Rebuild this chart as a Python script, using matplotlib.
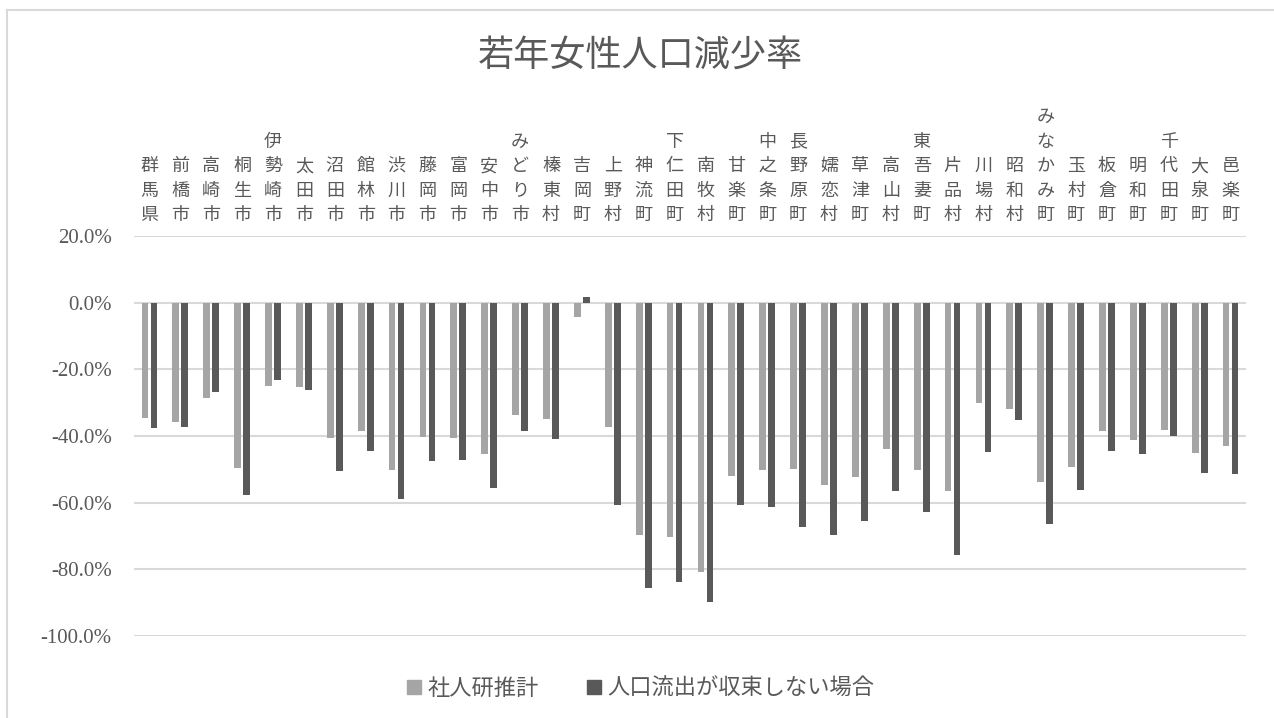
import matplotlib.pyplot as plt
import numpy as np
from matplotlib.patches import Patch
from matplotlib.lines import Line2D
from matplotlib.transforms import blended_transform_factory

plt.rcParams['font.family'] = ['Noto Sans CJK JP', 'DejaVu Sans']

# municipalities of Gunma
areas = ['群馬県', '前橋市', '高崎市', '桐生市', '伊勢崎市', '太田市', '沼田市', '館林市',
         '渋川市', '藤岡市', '富岡市', '安中市', 'みどり市', '榛東村', '吉岡町', '上野村',
         '神流町', '下仁田町', '南牧村', '甘楽町', '中之条町', '長野原町', '嬬恋村', '草津町',
         '高山村', '東吾妻町', '片品村', '川場村', '昭和村', 'みなかみ町', '玉村町', '板倉町',
         '明和町', '千代田町', '大泉町', '邑楽町']

# 社人研推計 (%)
ipss = [-34.7, -35.8, -28.6, -49.5, -25.0, -25.2, -40.7, -38.6, -50.1, -40.2, -40.5, -45.5,
        -33.7, -34.8, -4.2, -37.2, -69.6, -70.2, -80.7, -51.9, -50.1, -49.8, -54.8, -52.3,
        -44.0, -50.2, -56.6, -30.0, -31.8, -53.7, -49.4, -38.4, -41.2, -38.1, -45.1, -43.1]

# 人口流出が収束しない場合 (%)
no_conv = [-37.6, -37.2, -26.9, -57.7, -23.1, -26.3, -50.4, -44.6, -59.0, -47.5, -47.3, -55.5,
           -38.6, -40.9, 1.6, -60.8, -85.5, -83.7, -89.9, -60.8, -61.3, -67.4, -69.6, -65.4,
           -56.5, -62.7, -75.8, -44.7, -35.2, -66.3, -56.2, -44.5, -45.3, -39.9, -51.2, -51.3]

light = '#a5a5a5'
dark = '#595959'
txt = '#595959'

fig = plt.figure(figsize=(12.74, 7.18), dpi=100)
ax = fig.add_axes([134/1274, 1-636/718, 1112/1274, 400/718])

x = np.arange(len(areas))
w = 0.217
ax.bar(x - 0.146, ipss, w, color=light, zorder=3)
ax.bar(x + 0.146, no_conv, w, color=dark, zorder=3)

ax.set_xlim(-0.5, len(areas) - 0.5)
ax.set_ylim(-100, 20)
ax.set_yticks(np.arange(-100, 21, 20))
ax.set_yticklabels(['%.1f%%' % v for v in np.arange(-100, 21, 20)],
                   family='Liberation Serif', fontsize=15, color=txt)
ax.tick_params(axis='y', length=0, pad=16)
ax.set_xticks([])
ax.grid(axis='y', color='#d9d9d9', linewidth=1.5, zorder=0)
for s in ax.spines.values():
    s.set_visible(False)

# vertical labels with upright characters
trans = blended_transform_factory(ax.transData, ax.transAxes)
for i, name in enumerate(areas):
    ax.text(i, 1.03, '\n'.join(name), transform=trans, ha='center', va='bottom',
            fontsize=13, color=txt, linespacing=1.46)

fig.text(0.503, 1-56/718, '若年女性人口減少率', ha='center', va='center',
         fontsize=26, color=txt)

handles = [Patch(color=light), Patch(color=dark)]
fig.legend(handles, ['社人研推計', '人口流出が収束しない場合'], loc='center',
           bbox_to_anchor=(0.503, 1-688/718), ncol=2, frameon=False, fontsize=16,
           labelcolor=txt, handlelength=0.6, handleheight=0.6, handletextpad=0.3,
           columnspacing=2.2)

# chart border (left and top only visible)
fig.add_artist(Line2D([7/1274, 7/1274], [0, 1-10/718], color='#d9d9d9', linewidth=1.5))
fig.add_artist(Line2D([7/1274, 1], [1-10/718, 1-10/718], color='#d9d9d9', linewidth=1.5))

fig.savefig('out.png', dpi=100)
